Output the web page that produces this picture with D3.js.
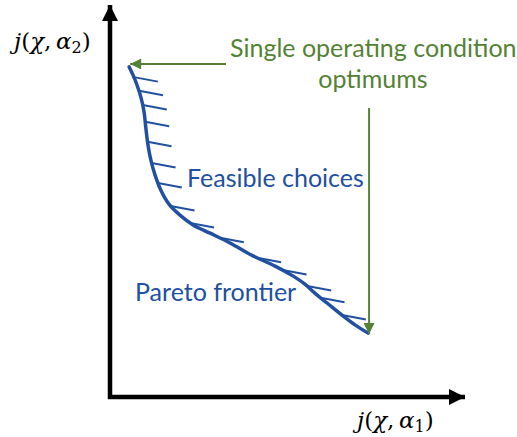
<!DOCTYPE html>
<html>
<head>
<meta charset="utf-8">
<script src="https://cdn.jsdelivr.net/npm/d3@7"></script>
<style>
  body { margin: 0; background: #fff; }
  svg { display: block; }
  .lbl { font-family: Lato, "Open Sans", sans-serif; }
  .math { font-family: "DejaVu Serif", "Liberation Serif", serif; font-size: 23px; }
</style>
</head>
<body>
<svg width="517" height="437"></svg>
<script>
// pareto frontier, in abstract objective units (0..100 on each axis)
var frontierX = [5.4, 6.5, 7.6, 8.7, 9.6, 10.1, 10.7, 11.5, 12.7, 14.4, 16.6, 19.7, 23.4, 28.2, 33.8, 40.3, 46.5, 51.5, 54.9, 57.7, 61.1, 65.6, 69.0, 72.7];
var frontierY = [84.2, 82.1, 79.6, 76.5, 72.7, 68.6, 64.3, 60.5, 56.6, 52.6, 49.2, 46.4, 43.9, 41.8, 39.3, 36.0, 33.4, 30.9, 28.8, 26.5, 24.0, 20.7, 18.4, 16.3];
// where the hatch marks (feasible side) sit along the frontier
var hatchY = [81.6, 78.1, 74.5, 70.2, 65.1, 59.7, 54.6, 48.7, 44.4, 40.6, 35.5, 32.4, 28.3, 25.3, 20.9];

var optimumLabel = ["Single operating condition", "optimums"];
var feasibleLabel = "Feasible choices";
var frontierLabel = "Pareto frontier";

var blue = "#2150a0", green = "#548235";

var svg = d3.select("svg");
var x = d3.scaleLinear().domain([0, 100]).range([110, 465]);
var y = d3.scaleLinear().domain([0, 100]).range([397, 5]);

var defs = svg.append("defs");
function marker(id, color, w, h) {
  defs.append("marker")
      .attr("id", id)
      .attr("viewBox", "0 0 10 10")
      .attr("refX", 10).attr("refY", 5)
      .attr("markerUnits", "userSpaceOnUse")
      .attr("markerWidth", w).attr("markerHeight", h)
      .attr("orient", "auto")
    .append("path")
      .attr("d", "M0,0L10,5L0,10Z")
      .attr("fill", color);
}
marker("ax", "#000", 16, 16);
marker("gr", green, 12, 11);

// axes
svg.append("line")
    .attr("x1", x(0)).attr("y1", y(0) + 2)
    .attr("x2", x(0)).attr("y2", y(100))
    .attr("stroke", "#000").attr("stroke-width", 4.5)
    .attr("marker-end", "url(#ax)");
svg.append("line")
    .attr("x1", x(0) - 2).attr("y1", y(0))
    .attr("x2", x(100)).attr("y2", y(0))
    .attr("stroke", "#000").attr("stroke-width", 4.5)
    .attr("marker-end", "url(#ax)");

// frontier curve
var pts = frontierX.map(function(d, i) { return [x(d), y(frontierY[i])]; });
var line = d3.line().curve(d3.curveCatmullRom.alpha(0.5));
var path = svg.append("path")
    .attr("d", line(pts))
    .attr("fill", "none")
    .attr("stroke", blue)
    .attr("stroke-width", 3.5)
    .attr("stroke-linecap", "round");

// hatches: find the point on the curve at each hatch height
var node = path.node(), total = node.getTotalLength();
function pointAtY(py) {
  var lo = 0, hi = total;
  for (var k = 0; k < 30; k++) {
    var mid = (lo + hi) / 2;
    if (node.getPointAtLength(mid).y < py) lo = mid; else hi = mid;
  }
  return node.getPointAtLength(lo);
}
svg.append("g").selectAll("line")
  .data(hatchY)
  .enter().append("line")
    .each(function(d) {
      var p = pointAtY(y(d));
      d3.select(this)
        .attr("x1", p.x).attr("y1", p.y)
        .attr("x2", p.x + 24).attr("y2", p.y + 4.5);
    })
    .attr("stroke", blue)
    .attr("stroke-width", 2);

// arrows to the two single-condition optima (curve end points)
var first = pts[0], last = pts[pts.length - 1];
svg.append("line")
    .attr("x1", 226).attr("y1", first[1] - 3)
    .attr("x2", first[0] + 1).attr("y2", first[1] - 3)
    .attr("stroke", green).attr("stroke-width", 2)
    .attr("marker-end", "url(#gr)");
svg.append("line")
    .attr("x1", last[0] + 1).attr("y1", 108)
    .attr("x2", last[0] + 1).attr("y2", last[1] + 1)
    .attr("stroke", green).attr("stroke-width", 2)
    .attr("marker-end", "url(#gr)");

// labels
svg.append("text").attr("class", "lbl")
    .attr("x", 230).attr("y", 57)
    .attr("fill", green).attr("font-size", 25)
    .text(optimumLabel[0]);
svg.append("text").attr("class", "lbl")
    .attr("x", 373).attr("y", 88)
    .attr("text-anchor", "middle")
    .attr("fill", green).attr("font-size", 25)
    .text(optimumLabel[1]);
svg.append("text").attr("class", "lbl")
    .attr("x", 187).attr("y", 187)
    .attr("fill", blue).attr("font-size", 25)
    .text(feasibleLabel);
svg.append("text").attr("class", "lbl")
    .attr("x", 135).attr("y", 301)
    .attr("fill", blue).attr("font-size", 25)
    .text(frontierLabel);

// axis titles j(χ, α_i)
function mathLabel(px, py, sub) {
  var t = svg.append("text").attr("class", "math").attr("x", px).attr("y", py);
  t.append("tspan").attr("font-style", "italic").text("j");
  t.append("tspan").text("(");
  t.append("tspan").attr("font-style", "italic").text("χ");
  t.append("tspan").text(",\u2009");
  t.append("tspan").attr("font-style", "italic").text("α");
  t.append("tspan").attr("font-size", 16).attr("dy", 4).text(sub);
  t.append("tspan").attr("dy", -4).text(")");
}
mathLabel(14, 49, "2");
mathLabel(357, 428, "1");
</script>
</body>
</html>
